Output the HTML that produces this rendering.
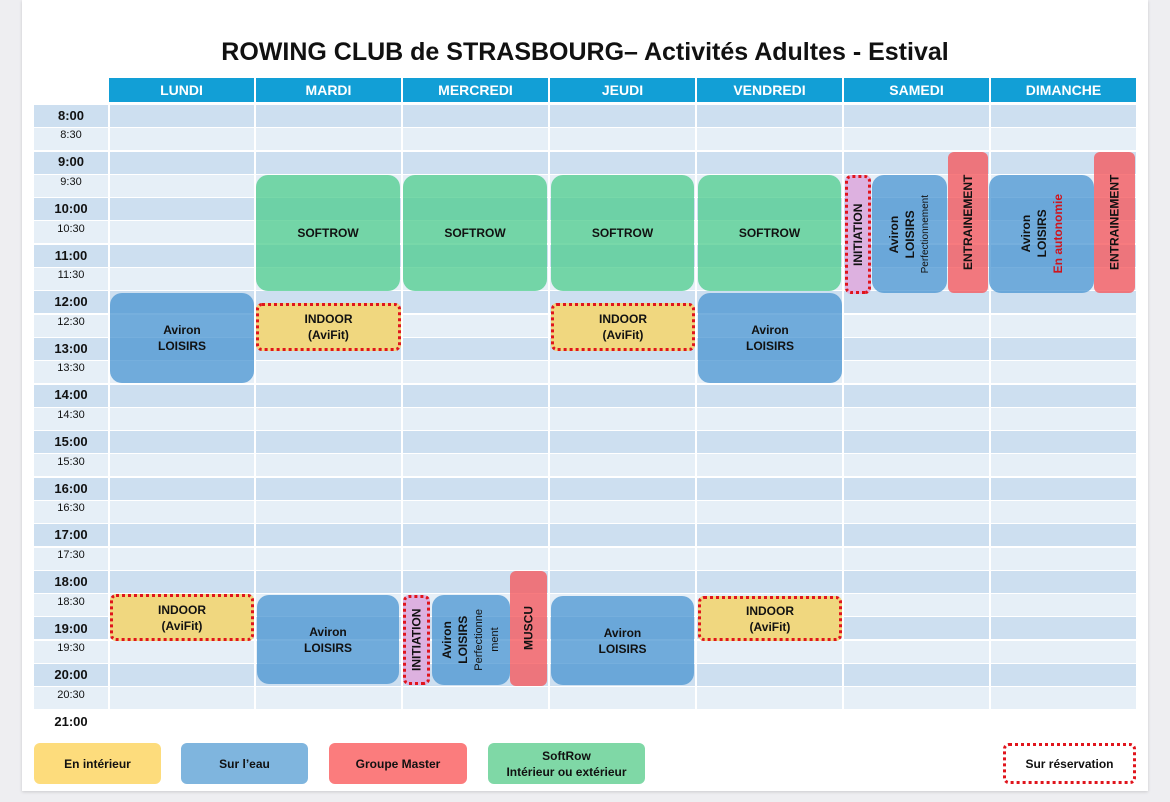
<!DOCTYPE html>
<html><head><meta charset="utf-8">
<style>
*{margin:0;padding:0;box-sizing:border-box}
body{width:1170px;height:802px;background:#eeeef1;font-family:"Liberation Sans",sans-serif;position:relative;overflow:hidden}
.card{position:absolute;left:22px;top:0;width:1126px;height:791px;background:#fff;box-shadow:0 1px 3px rgba(0,0,0,.15)}
.a{position:absolute}
.title{left:0;width:1170px;top:38px;text-align:center;font-weight:bold;font-size:25px;color:#111}
.hd{background:#129fd6;color:#fff;font-weight:bold;font-size:14px;text-align:center;line-height:24px;top:78px;height:24px}
.row{left:34px;width:1102px;height:22px}
.d{background:#cddff0}.l{background:#e6eff7}
.vl{top:105px;height:605px;width:2px;background:#fff}
.t{left:34px;width:74px;text-align:center;color:#111}
.tb{font-weight:bold;font-size:13px}.ts{font-size:11px}
.blk{display:flex;align-items:center;justify-content:center;text-align:center;font-weight:bold;font-size:12px;color:#111;line-height:16px;border-radius:12px}
.g{background:rgba(82,205,145,.78)}
.b{background:rgba(72,148,210,.75)}
.r{background:rgba(245,90,95,.8);border-radius:6px}
.y{background:#f0d77f;border:3px dotted #e0141c;border-radius:6px}
.p{background:#ddb1e0;border:3px dotted #e0141c;border-radius:6px}
.v{writing-mode:vertical-rl;transform:rotate(180deg)}
.lg{display:flex;align-items:center;justify-content:center;text-align:center;font-weight:bold;font-size:12px;color:#111;border-radius:6px;top:743px;height:41px;line-height:16px}
</style></head><body>
<div class="card"></div>
<div class="a title">ROWING CLUB de STRASBOURG– Activités Adultes - Estival</div>

<div class="a hd" style="left:109px;width:145px">LUNDI</div>
<div class="a hd" style="left:256px;width:145px">MARDI</div>
<div class="a hd" style="left:403px;width:145px">MERCREDI</div>
<div class="a hd" style="left:550px;width:145px">JEUDI</div>
<div class="a hd" style="left:697px;width:145px">VENDREDI</div>
<div class="a hd" style="left:844px;width:145px">SAMEDI</div>
<div class="a hd" style="left:991px;width:145px">DIMANCHE</div>

<div class="a row d" style="top:105px"></div><div class="a row l" style="top:128px"></div>
<div class="a row d" style="top:152px"></div><div class="a row l" style="top:175px"></div>
<div class="a row d" style="top:198px"></div><div class="a row l" style="top:221px"></div>
<div class="a row d" style="top:245px"></div><div class="a row l" style="top:268px"></div>
<div class="a row d" style="top:291px"></div><div class="a row l" style="top:315px"></div>
<div class="a row d" style="top:338px"></div><div class="a row l" style="top:361px"></div>
<div class="a row d" style="top:385px"></div><div class="a row l" style="top:408px"></div>
<div class="a row d" style="top:431px"></div><div class="a row l" style="top:454px"></div>
<div class="a row d" style="top:478px"></div><div class="a row l" style="top:501px"></div>
<div class="a row d" style="top:524px"></div><div class="a row l" style="top:548px"></div>
<div class="a row d" style="top:571px"></div><div class="a row l" style="top:594px"></div>
<div class="a row d" style="top:617px"></div><div class="a row l" style="top:641px"></div>
<div class="a row d" style="top:664px"></div><div class="a row l" style="top:687px"></div>

<div class="a vl" style="left:108px"></div><div class="a vl" style="left:254px"></div>
<div class="a vl" style="left:401px"></div><div class="a vl" style="left:548px"></div>
<div class="a vl" style="left:695px"></div><div class="a vl" style="left:842px"></div>
<div class="a vl" style="left:989px"></div>

<div class="a t tb" style="top:108px">8:00</div><div class="a t ts" style="top:129px">8:30</div>
<div class="a t tb" style="top:154px">9:00</div><div class="a t ts" style="top:176px">9:30</div>
<div class="a t tb" style="top:201px">10:00</div><div class="a t ts" style="top:223px">10:30</div>
<div class="a t tb" style="top:248px">11:00</div><div class="a t ts" style="top:269px">11:30</div>
<div class="a t tb" style="top:294px">12:00</div><div class="a t ts" style="top:316px">12:30</div>
<div class="a t tb" style="top:341px">13:00</div><div class="a t ts" style="top:362px">13:30</div>
<div class="a t tb" style="top:387px">14:00</div><div class="a t ts" style="top:409px">14:30</div>
<div class="a t tb" style="top:434px">15:00</div><div class="a t ts" style="top:456px">15:30</div>
<div class="a t tb" style="top:481px">16:00</div><div class="a t ts" style="top:502px">16:30</div>
<div class="a t tb" style="top:527px">17:00</div><div class="a t ts" style="top:549px">17:30</div>
<div class="a t tb" style="top:574px">18:00</div><div class="a t ts" style="top:596px">18:30</div>
<div class="a t tb" style="top:621px">19:00</div><div class="a t ts" style="top:642px">19:30</div>
<div class="a t tb" style="top:667px">20:00</div><div class="a t ts" style="top:689px">20:30</div>
<div class="a t tb" style="top:714px">21:00</div>

<!-- morning -->
<div class="a blk g" style="left:256px;top:175px;width:144px;height:116px">SOFTROW</div>
<div class="a blk g" style="left:403px;top:175px;width:144px;height:116px">SOFTROW</div>
<div class="a blk g" style="left:551px;top:175px;width:143px;height:116px">SOFTROW</div>
<div class="a blk g" style="left:698px;top:175px;width:143px;height:116px">SOFTROW</div>

<div class="a blk p v" style="left:845px;top:175px;width:26px;height:119px">INITIATION</div>
<div class="a blk b" style="left:872px;top:175px;width:75px;height:118px"><div class="v" style="font-size:12px">Aviron<br>LOISIRS<br><span style="font-weight:normal;font-size:10px">Perfectionnement</span></div></div>
<div class="a blk r v" style="left:948px;top:152px;width:40px;height:141px">ENTRAINEMENT</div>
<div class="a blk b" style="left:989px;top:175px;width:105px;height:118px"><div class="v">Aviron<br>LOISIRS<br><span style="color:#d0141c">En autonomie</span></div></div>
<div class="a blk r v" style="left:1094px;top:152px;width:41px;height:141px">ENTRAINEMENT</div>

<div class="a blk b" style="left:110px;top:293px;width:144px;height:90px">Aviron<br>LOISIRS</div>
<div class="a blk y" style="left:256px;top:303px;width:145px;height:48px">INDOOR<br>(AviFit)</div>
<div class="a blk y" style="left:551px;top:303px;width:144px;height:48px">INDOOR<br>(AviFit)</div>
<div class="a blk b" style="left:698px;top:293px;width:144px;height:90px">Aviron<br>LOISIRS</div>

<!-- evening -->
<div class="a blk y" style="left:110px;top:594px;width:144px;height:47px">INDOOR<br>(AviFit)</div>
<div class="a blk b" style="left:257px;top:595px;width:142px;height:89px">Aviron<br>LOISIRS</div>
<div class="a blk p v" style="left:403px;top:595px;width:27px;height:90px">INITIATION</div>
<div class="a blk b" style="left:432px;top:595px;width:78px;height:90px"><div class="v">Aviron<br>LOISIRS<br><span style="font-weight:normal;font-size:11px">Perfectionne<br>ment</span></div></div>
<div class="a blk r v" style="left:510px;top:571px;width:37px;height:115px">MUSCU</div>
<div class="a blk b" style="left:551px;top:596px;width:143px;height:89px">Aviron<br>LOISIRS</div>
<div class="a blk y" style="left:698px;top:596px;width:144px;height:45px">INDOOR<br>(AviFit)</div>

<!-- legend -->
<div class="a lg" style="left:34px;width:127px;background:#fddc7c">En intérieur</div>
<div class="a lg" style="left:181px;width:127px;background:#7fb5de">Sur l’eau</div>
<div class="a lg" style="left:329px;width:138px;background:#fb7c7d">Groupe Master</div>
<div class="a lg" style="left:488px;width:157px;background:#7fd8a6">SoftRow<br>Intérieur ou extérieur</div>
<div class="a lg" style="left:1003px;width:133px;background:#fff;border:3px dotted #e0141c">Sur réservation</div>
</body></html>
